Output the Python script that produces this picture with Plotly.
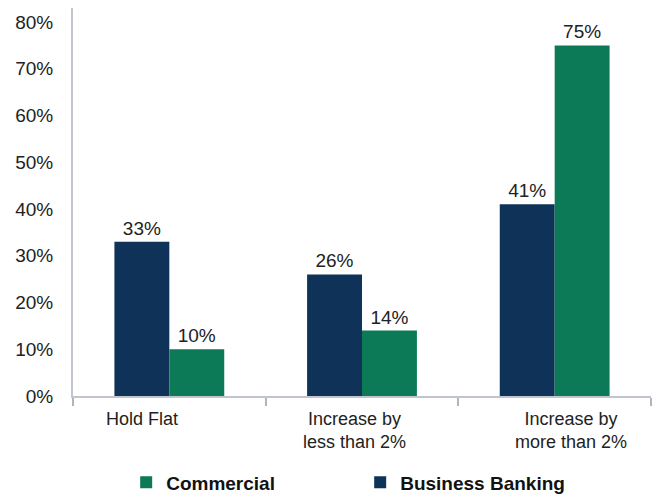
import plotly.graph_objects as go

categories = ["Hold Flat", "Increase by<br>less than 2%", "Increase by<br>more than 2%"]
business_banking = [33, 26, 41]
commercial = [10, 14, 75]
y_ticks = [0, 10, 20, 30, 40, 50, 60, 70, 80]

NAVY = "#0f3358"
GREEN = "#0d7a57"
FONT = "Liberation Sans, Arial, sans-serif"

fig = go.Figure()
fig.add_trace(go.Bar(
    x=categories, y=business_banking, name="<b>Business Banking</b>",
    marker=dict(color=NAVY, line=dict(width=0)),
    text=[f"{v}%" for v in business_banking], textposition="outside",
    textfont=dict(size=19, color="#222222", family=FONT),
    cliponaxis=False, legendrank=2,
))
fig.add_trace(go.Bar(
    x=categories, y=commercial, name="<b>Commercial</b>",
    marker=dict(color=GREEN, line=dict(width=0)),
    text=[f"{v}%" for v in commercial], textposition="outside",
    textfont=dict(size=19, color="#222222", family=FONT),
    cliponaxis=False, legendrank=1,
))

# category labels (slightly off-centre in the original)
label_shifts = [-27, -8, 16]
for cat, dx in zip(categories, label_shifts):
    fig.add_annotation(x=cat, y=0, xref="x", yref="y", text=cat, showarrow=False,
                       xanchor="center", yanchor="top", yshift=-11, xshift=dx,
                       font=dict(size=18, color="#222222", family=FONT), align="center")

fig.update_layout(
    width=657, height=495,
    margin=dict(l=73, r=6, t=8, b=99, autoexpand=False),
    paper_bgcolor="white", plot_bgcolor="white",
    barmode="group", bargap=0.43, bargroupgap=0,
    font=dict(family=FONT, color="#222222"),
    showlegend=True,
    legend=dict(orientation="h", x=0.092, xanchor="left", y=-0.174, yanchor="top",
                font=dict(size=19, color="#111111", family=FONT),
                traceorder="normal", entrywidth=189,
                itemsizing="constant"),
    xaxis=dict(showline=True, linecolor="#c0c4cc", linewidth=2, automargin=False,
               ticks="outside", tickson="boundaries", ticklen=8, tickcolor="#b0b4bb",
               tickwidth=2, showticklabels=False, showgrid=False),
    yaxis=dict(range=[0, 83], tickvals=y_ticks, ticktext=[f"{v}%" for v in y_ticks],
               showline=True, linecolor="#c0c4cc", linewidth=2, showgrid=False,
               ticks="", tickfont=dict(size=19, color="#222222", family=FONT),
               zeroline=False, ticklabelstandoff=14, automargin=False),
)

fig.write_html("out.html", config={"displayModeBar": False},
               post_script="document.body.style.margin='0';document.body.style.overflow='hidden';")
